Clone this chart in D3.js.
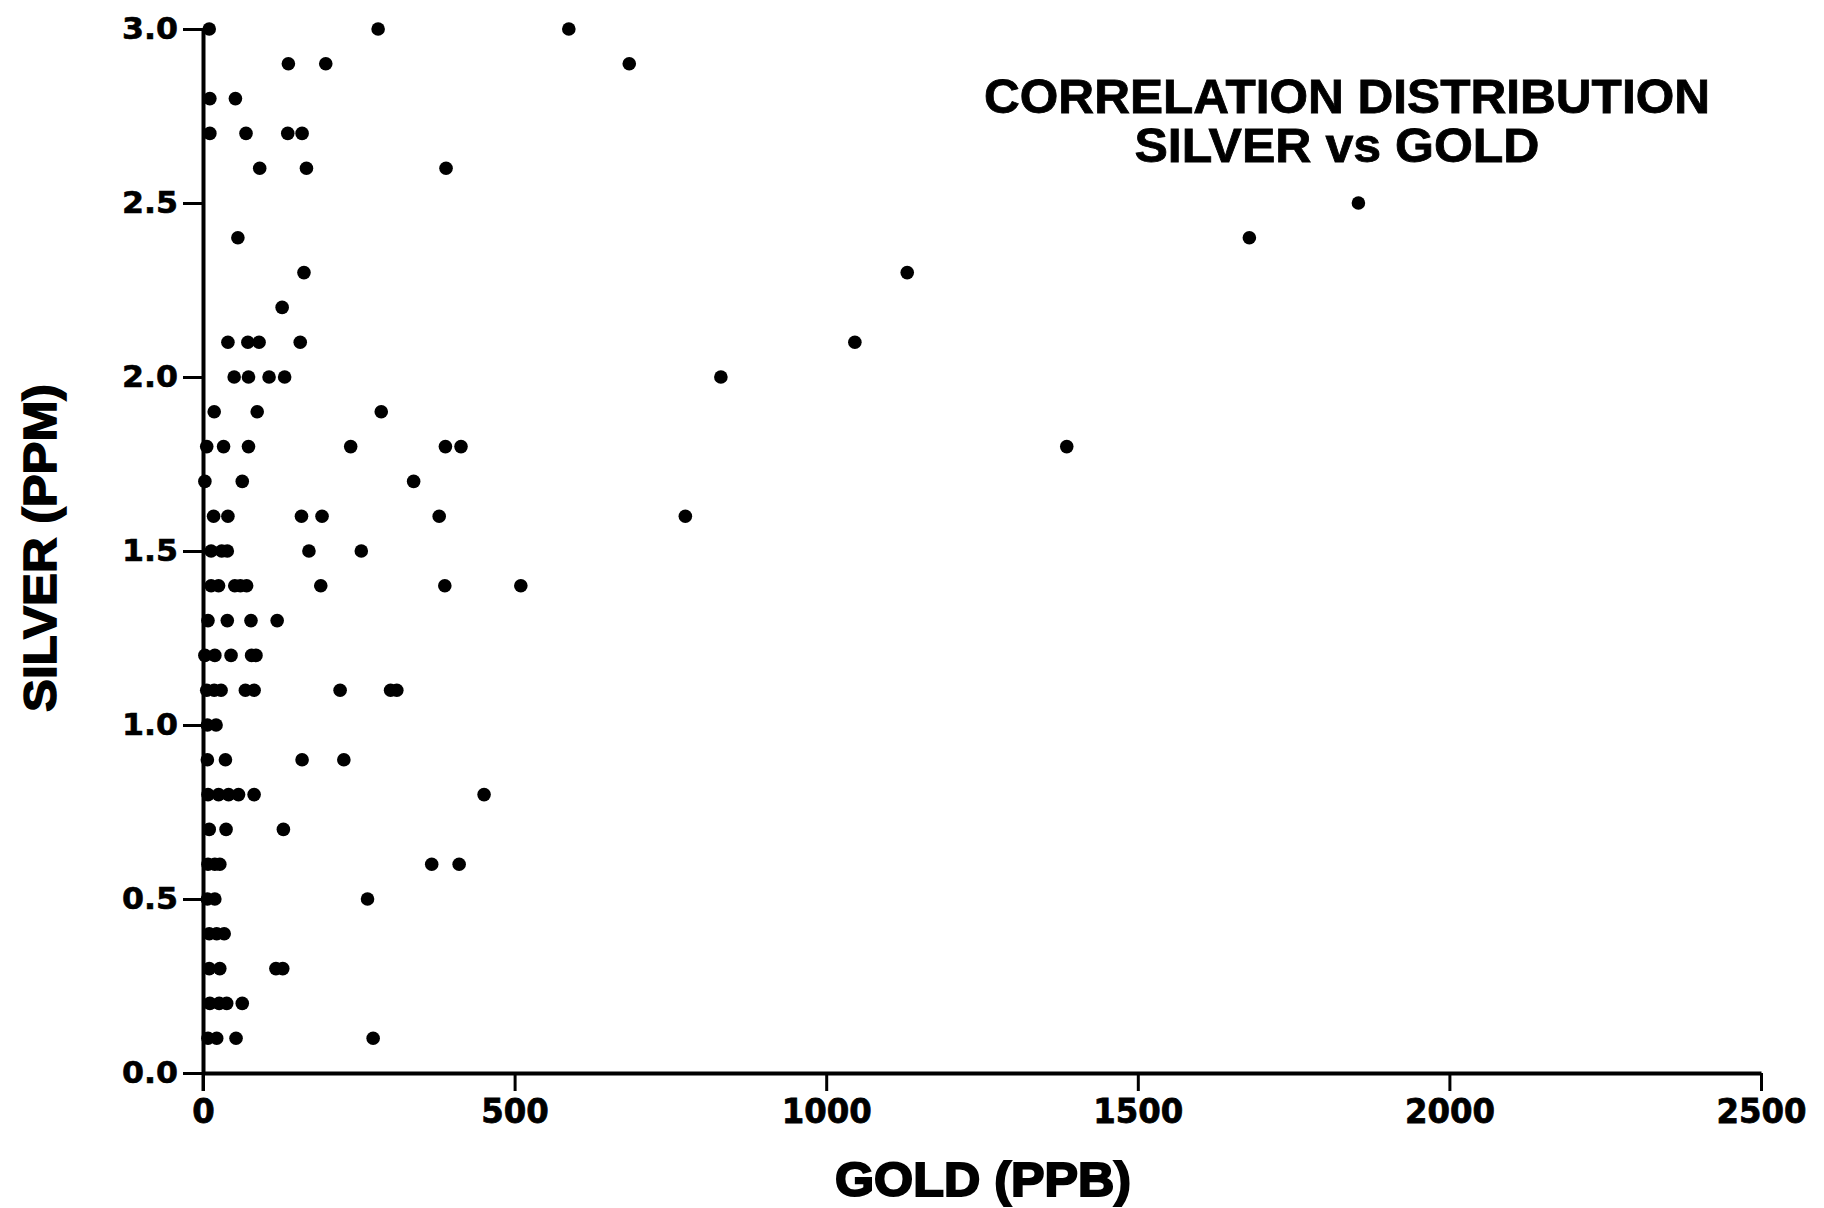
<!DOCTYPE html>
<html>
<head>
<meta charset="utf-8">
<script src="https://cdn.jsdelivr.net/npm/d3@7"></script>
<style>
  html, body { margin: 0; padding: 0; background: #fff; }
  svg { display: block; }
</style>
</head>
<body>
<div id="chart"></div>
<script>
// Chart size
const width = 1824;
const height = 1208;

// Axis ticks
const xTicks = [0, 500, 1000, 1500, 2000, 2500];
const yTicks = [0, 0.5, 1.0, 1.5, 2.0, 2.5, 3.0];

// Samples, one silver value per gold value (row by row)
const silver = [
  3.0, 3.0, 3.0,
  2.9, 2.9, 2.9,
  2.8, 2.8,
  2.7, 2.7, 2.7, 2.7,
  2.6, 2.6, 2.6,
  2.5,
  2.4, 2.4,
  2.3, 2.3,
  2.2,
  2.1, 2.1, 2.1, 2.1, 2.1,
  2.0, 2.0, 2.0, 2.0, 2.0,
  1.9, 1.9, 1.9,
  1.8, 1.8, 1.8, 1.8, 1.8, 1.8, 1.8,
  1.7, 1.7, 1.7,
  1.6, 1.6, 1.6, 1.6, 1.6, 1.6,
  1.5, 1.5, 1.5, 1.5, 1.5,
  1.4, 1.4, 1.4, 1.4, 1.4, 1.4, 1.4, 1.4,
  1.3, 1.3, 1.3, 1.3,
  1.2, 1.2, 1.2, 1.2, 1.2,
  1.1, 1.1, 1.1, 1.1, 1.1, 1.1, 1.1, 1.1,
  1.0, 1.0,
  0.9, 0.9, 0.9, 0.9,
  0.8, 0.8, 0.8, 0.8, 0.8, 0.8,
  0.7, 0.7, 0.7,
  0.6, 0.6, 0.6, 0.6, 0.6,
  0.5, 0.5, 0.5,
  0.4, 0.4, 0.4,
  0.3, 0.3, 0.3, 0.3,
  0.2, 0.2, 0.2, 0.2,
  0.1, 0.1, 0.1, 0.1
];
const gold = [
  10, 281, 587,
  137, 197, 684,
  11, 52,
  11, 69, 136, 159,
  91, 166, 390,
  1854,
  56, 1679,
  162, 1130,
  127,
  40, 72, 90, 156, 1046,
  50, 73, 106, 131, 831,
  18, 87, 286,
  6, 33, 73, 237, 389, 414, 1386,
  3, 63, 338,
  17, 40, 158, 191, 379, 774,
  13, 30, 39, 170, 254,
  13, 25, 51, 60, 70, 189, 388, 510,
  8, 39, 77, 119,
  3, 19, 45, 78, 85,
  6, 18, 29, 68, 82, 220, 301, 311,
  7, 21,
  7, 36, 159, 226,
  8, 25, 41, 57, 82, 451,
  10, 37, 129,
  8, 19, 27, 367, 411,
  7, 19, 264,
  10, 22, 34,
  10, 27, 117, 128,
  11, 26, 38, 63,
  8, 22, 53, 273
];

const points = gold.map((g, i) => ({ gold: g, silver: silver[i] }));

const svg = d3.select('#chart')
  .append('svg')
  .attr('width', width)
  .attr('height', height);

const xScale = d3.scaleLinear()
  .domain([0, 2500])
  .range([203, 1761]);

const yScale = d3.scaleLinear()
  .domain([0, 3])
  .range([1073, 29]);

const tickFont = '"DejaVu Sans", "Liberation Sans", Arial, sans-serif';
const labelFont = '"Liberation Sans", Arial, Helvetica, sans-serif';

// X axis
const xAxis = svg.append('g')
  .attr('transform', `translate(0,${yScale(0)})`)
  .call(d3.axisBottom(xScale)
    .tickValues(xTicks)
    .tickFormat(d3.format('d'))
    .tickSize(18)
    .tickSizeOuter(0)
    .tickPadding(8));

xAxis.select('.domain').attr('stroke', '#000').attr('stroke-width', 4);
xAxis.selectAll('.tick line').attr('stroke', '#000').attr('stroke-width', 3);
xAxis.selectAll('.tick text')
  .attr('fill', '#000')
  .style('font-family', tickFont)
  .style('font-weight', 'bold')
  .style('font-size', '34px')
  .attr('stroke', '#000')
  .attr('stroke-width', 0.8)
  .attr('textLength', d => String(d).length * 22.5)
  .attr('lengthAdjust', 'spacingAndGlyphs');

// Y axis
const yAxis = svg.append('g')
  .attr('transform', `translate(${xScale(0)},0)`)
  .call(d3.axisLeft(yScale)
    .tickValues(yTicks)
    .tickFormat(d3.format('.1f'))
    .tickSize(20)
    .tickSizeOuter(0)
    .tickPadding(5));

yAxis.select('.domain').attr('stroke', '#000').attr('stroke-width', 4);
yAxis.selectAll('.tick line').attr('stroke', '#000').attr('stroke-width', 3);
yAxis.selectAll('.tick text')
  .attr('fill', '#000')
  .style('font-family', tickFont)
  .style('font-weight', 'bold')
  .style('font-size', '30px')
  .attr('stroke', '#000')
  .attr('stroke-width', 0.6)
  .attr('textLength', 56)
  .attr('lengthAdjust', 'spacingAndGlyphs');

// Extend the y axis line below the x axis, like the zero tick in the reference
svg.append('line')
  .attr('x1', xScale(0)).attr('x2', xScale(0))
  .attr('y1', yScale(0)).attr('y2', yScale(0) + 18)
  .attr('stroke', '#000')
  .attr('stroke-width', 3);

// Dots
svg.selectAll('.dot')
  .data(points)
  .enter().append('circle')
  .attr('class', 'dot')
  .attr('cx', d => xScale(d.gold))
  .attr('cy', d => yScale(d.silver))
  .attr('r', 6.8)
  .attr('fill', '#000');

// Title
const title = svg.append('g')
  .style('font-family', labelFont)
  .style('font-weight', 'bold')
  .style('font-size', '48px')
  .attr('fill', '#000')
  .attr('stroke', '#000')
  .attr('stroke-width', 0.8)
  .attr('text-anchor', 'middle');

title.append('text')
  .attr('x', 1347)
  .attr('y', 113)
  .attr('textLength', 726)
  .attr('lengthAdjust', 'spacingAndGlyphs')
  .text('CORRELATION DISTRIBUTION');

title.append('text')
  .attr('x', 1337)
  .attr('y', 162)
  .attr('textLength', 405)
  .attr('lengthAdjust', 'spacingAndGlyphs')
  .text('SILVER vs GOLD');

// Axis labels
svg.append('text')
  .attr('x', 983)
  .attr('y', 1196)
  .attr('text-anchor', 'middle')
  .style('font-family', labelFont)
  .style('font-weight', 'bold')
  .style('font-size', '48px')
  .attr('fill', '#000')
  .attr('stroke', '#000')
  .attr('stroke-width', 2)
  .attr('textLength', 296)
  .attr('lengthAdjust', 'spacingAndGlyphs')
  .text('GOLD (PPB)');

svg.append('text')
  .attr('transform', 'translate(56,548) rotate(-90)')
  .attr('text-anchor', 'middle')
  .style('font-family', labelFont)
  .style('font-weight', 'bold')
  .style('font-size', '46px')
  .attr('fill', '#000')
  .attr('stroke', '#000')
  .attr('stroke-width', 1.5)
  .attr('textLength', 328)
  .attr('lengthAdjust', 'spacingAndGlyphs')
  .text('SILVER (PPM)');
</script>
</body>
</html>
